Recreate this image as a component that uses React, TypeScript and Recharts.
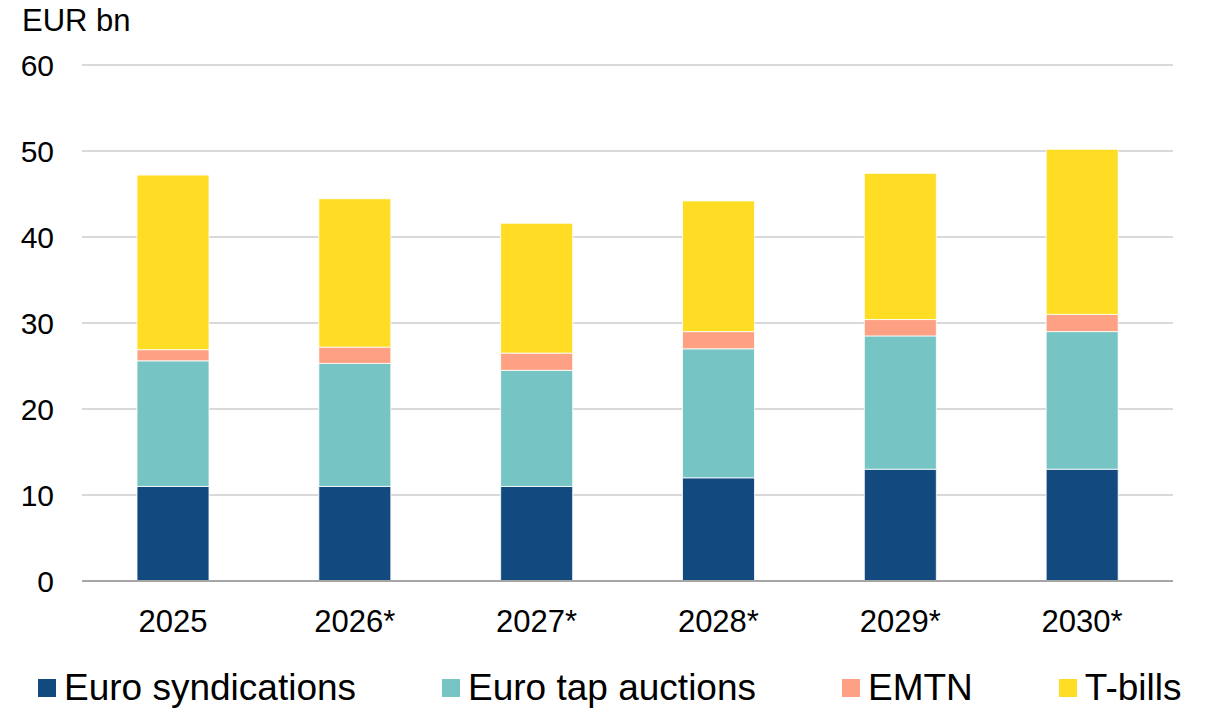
import { Bar, BarChart, CartesianGrid, Legend, XAxis, YAxis } from "recharts";

const YEARS = ["2025", "2026*", "2027*", "2028*", "2029*", "2030*"];
const SYNDICATIONS = [11, 11, 11, 12, 13, 13];
const TAP_AUCTIONS = [14.6, 14.3, 13.5, 15, 15.5, 16];
const EMTN = [1.3, 1.9, 2.0, 2.0, 1.9, 2.0];
const T_BILLS = [20.3, 17.25, 15.1, 15.2, 17, 19.2];
const Y_TICKS = [0, 10, 20, 30, 40, 50, 60];

const SERIES = [
  { key: "synd", name: "Euro syndications", color: "#124a80", values: SYNDICATIONS },
  { key: "tap", name: "Euro tap auctions", color: "#76c4c4", values: TAP_AUCTIONS },
  { key: "emtn", name: "EMTN", color: "#fda083", values: EMTN },
  { key: "tbills", name: "T-bills", color: "#ffdd25", values: T_BILLS },
];

const data = YEARS.map((year, i) => {
  const row: Record<string, string | number> = { year };
  SERIES.forEach((s) => (row[s.key] = s.values[i]));
  return row;
});

const FONT = "'Liberation Sans', Arial, sans-serif";
const X_TICK = { fill: "#000", fontSize: 31, fontFamily: FONT };
const Y_TICK = { fill: "#000", fontSize: 30, fontFamily: FONT };

function LegendRow() {
  return (
    <div
      style={{
        display: "flex",
        justifyContent: "flex-start",
        alignItems: "center",
        gap: 86,
        height: 40,
        fontFamily: FONT,
        fontSize: 37,
        color: "#000",
        paddingLeft: 38,
        whiteSpace: "nowrap",
      }}
    >
      {SERIES.map((s) => (
        <div key={s.key} style={{ display: "flex", alignItems: "center", gap: 8 }}>
          <span style={{ width: 18, height: 18, background: s.color, display: "inline-block" }} />
          <span style={{ lineHeight: "40px" }}>{s.name}</span>
        </div>
      ))}
    </div>
  );
}

export default function App() {
  return (
    <div style={{ position: "fixed", left: 0, top: 0, width: 1209, height: 708, background: "#fff" }}>
      <div
        style={{
          position: "absolute",
          left: 22,
          top: 4,
          fontFamily: FONT,
          fontSize: 31,
          color: "#000",
          lineHeight: "34px",
        }}
      >
        EUR bn
      </div>
      <BarChart
        width={1209}
        height={708}
        data={data}
        margin={{ top: 65, right: 36, bottom: 0, left: 0 }}
        barSize={72}
      >
        <CartesianGrid stroke="#d9d9d9" strokeWidth={2} vertical={false} />
        <XAxis
          dataKey="year"
          tickLine={false}
          axisLine={{ stroke: "#a6a6a6", strokeWidth: 2 }}
          tick={X_TICK}
          tickMargin={23}
          height={87}
          interval={0}
        />
        <YAxis
          domain={[0, 60]}
          ticks={Y_TICKS}
          tickLine={false}
          axisLine={false}
          tick={Y_TICK}
          tickMargin={22}
          width={82}
        />
        <Legend verticalAlign="bottom" content={() => <LegendRow />} />
        {SERIES.map((s) => (
          <Bar
            key={s.key}
            dataKey={s.key}
            name={s.name}
            stackId="a"
            fill={s.color}
            stroke="#ffffff"
            strokeWidth={0.8}
            isAnimationActive={false}
          />
        ))}
      </BarChart>
    </div>
  );
}
